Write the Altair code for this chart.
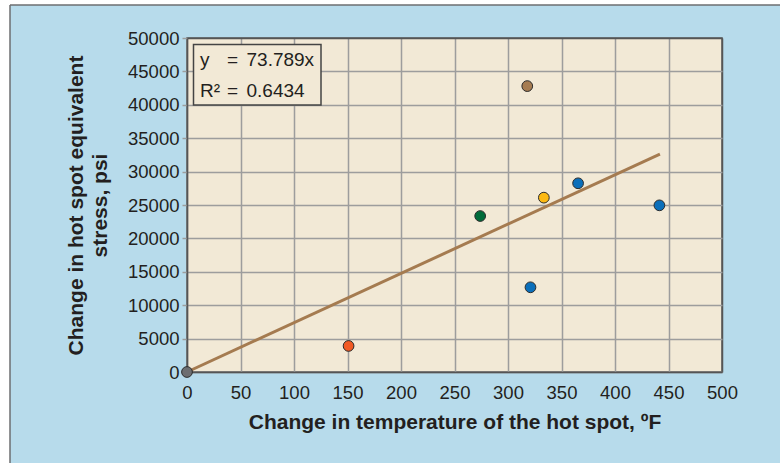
import altair as alt
import pandas as pd

# ---- data ----
temps = [0, 151, 274, 318, 333.5, 365.5, 441.5, 321]
stress = [0, 3900, 23350, 42800, 26100, 28250, 24950, 12680]
dot_colors = ["#6d6e71", "#f15a24", "#006b3a", "#a67c52", "#fdb913",
              "#0b6fba", "#0b6fba", "#0b6fba"]
trend_x = [0, 442]
trend_y = [0, 32615]
x_ticks = [0, 50, 100, 150, 200, 250, 300, 350, 400, 450, 500]
y_ticks = [0, 5000, 10000, 15000, 20000, 25000, 30000, 35000, 40000, 45000, 50000]
eq_lhs = ["y", "R²"]
eq_rhs = ["73.789x", "0.6434"]
x_title = "Change in temperature of the hot spot, ºF"
y_title = ["Change in hot spot equivalent", "stress, psi"]

FONT = "Liberation Sans"
TXT = "#231f20"
BEIGE = "#f2e9d6"
BLUE = "#b7dbeb"
GRID = "#9d9d9d"
BORDER = "#555555"

W, H = 535, 334
PL, PT, PR, PB = 187, 38, 58, 91

pts = pd.DataFrame({"t": temps, "s": stress, "c": dot_colors})
trend = pd.DataFrame({"t": trend_x, "s": trend_y})

xscale = alt.Scale(domain=[0, 500], nice=False, zero=False)
yscale = alt.Scale(domain=[0, 50000], nice=False, zero=False)

xaxis = alt.Axis(
    values=x_ticks, format="d", grid=True,
    gridColor={"condition": {"test": "datum.value === 500", "value": BORDER}, "value": GRID},
    gridWidth=1.5, domain=True, domainColor=BORDER, domainWidth=1.5,
    ticks=False, labelFontSize=18.5, labelFont=FONT, labelColor=TXT, labelPadding=11,
    labelBaseline="top", labelOverlap=False, labelFlush=False,
    title=x_title, titleFont=FONT, titleFontSize=21, titleFontWeight="bold",
    titleColor=TXT, titleX=W / 2, titleY=56, titleAlign="center",
    titleBaseline="alphabetic",
)
yaxis = alt.Axis(
    values=y_ticks, format="d", grid=True, tickCount=11,
    gridColor={"condition": {"test": "datum.value === 50000", "value": BORDER}, "value": GRID},
    gridWidth=1.5, domain=True, domainColor=BORDER, domainWidth=1.5,
    ticks=True, tickSize=5, tickColor=GRID, tickWidth=1.5,
    labelFontSize=18.5, labelFont=FONT, labelColor=TXT, labelPadding=3,
    labelOverlap=False, labelFlush=False,
    title=y_title, titleFont=FONT, titleFontSize=21, titleFontWeight="bold",
    titleColor=TXT, titleAngle=270, titleX=-111, titleY=H / 2,
    titleAlign="center", titleBaseline="middle", titleLineHeight=24,
)

one = alt.Data(values=[{"k": 1}])

# outer frame: white strip + grey border at the top-left of the picture
white_left = alt.Chart(one).mark_rect(color="white").encode(
    x=alt.value(-PL), x2=alt.value(-PL + 10), y=alt.value(-PT), y2=alt.value(H + PB))
white_top = alt.Chart(one).mark_rect(color="white").encode(
    x=alt.value(-PL), x2=alt.value(W + PR), y=alt.value(-PT), y2=alt.value(-PT + 5))
frame_v = alt.Chart(one).mark_rule(color="#6d6e71", strokeWidth=1.5).encode(
    x=alt.value(-PL + 10), y=alt.value(-PT + 5), y2=alt.value(H + PB))
frame_h = alt.Chart(one).mark_rule(color="#6d6e71", strokeWidth=1.5).encode(
    y=alt.value(-PT + 5), x=alt.value(-PL + 10), x2=alt.value(W + PR))

line = alt.Chart(trend).mark_line(color="#a57b50", strokeWidth=3).encode(
    x=alt.X("t:Q", scale=xscale, axis=xaxis),
    y=alt.Y("s:Q", scale=yscale, axis=yaxis),
)
dots = alt.Chart(pts).mark_circle(size=115, opacity=1, stroke="#2b2b2b",
                                  strokeWidth=1).encode(
    x=alt.X("t:Q", scale=xscale, axis=xaxis),
    y=alt.Y("s:Q", scale=yscale, axis=yaxis),
    color=alt.Color("c:N", scale=None),
)

box = alt.Chart(one).mark_rect(fill=BEIGE, stroke="#444444", strokeWidth=1.5).encode(
    x=alt.value(6.5), x2=alt.value(134), y=alt.value(6.5), y2=alt.value(67))


def txt(s, x, y):
    return alt.Chart(one).mark_text(
        align="left", baseline="alphabetic", font=FONT, fontSize=19, color=TXT
    ).encode(x=alt.value(x), y=alt.value(y), text=alt.value(s))


texts = [
    txt(eq_lhs[0], 13, 27.5), txt("=", 40, 27.5), txt(eq_rhs[0], 59.5, 27.5),
    txt(eq_lhs[1], 13, 58.5), txt("=", 40, 58.5), txt(eq_rhs[1], 59.5, 58.5),
]

chart = alt.layer(
    white_left, white_top, frame_v, frame_h, line, dots, box, *texts
).properties(
    width=W, height=H,
    background=BLUE,
    padding={"left": PL, "top": PT, "right": PR, "bottom": PB},
    autosize=alt.AutoSizeParams(type="none"),
).configure_view(
    fill=BEIGE, stroke=BORDER, strokeWidth=1.5
)

chart.save("out.html", embed_options={"renderer": "svg", "actions": False})
